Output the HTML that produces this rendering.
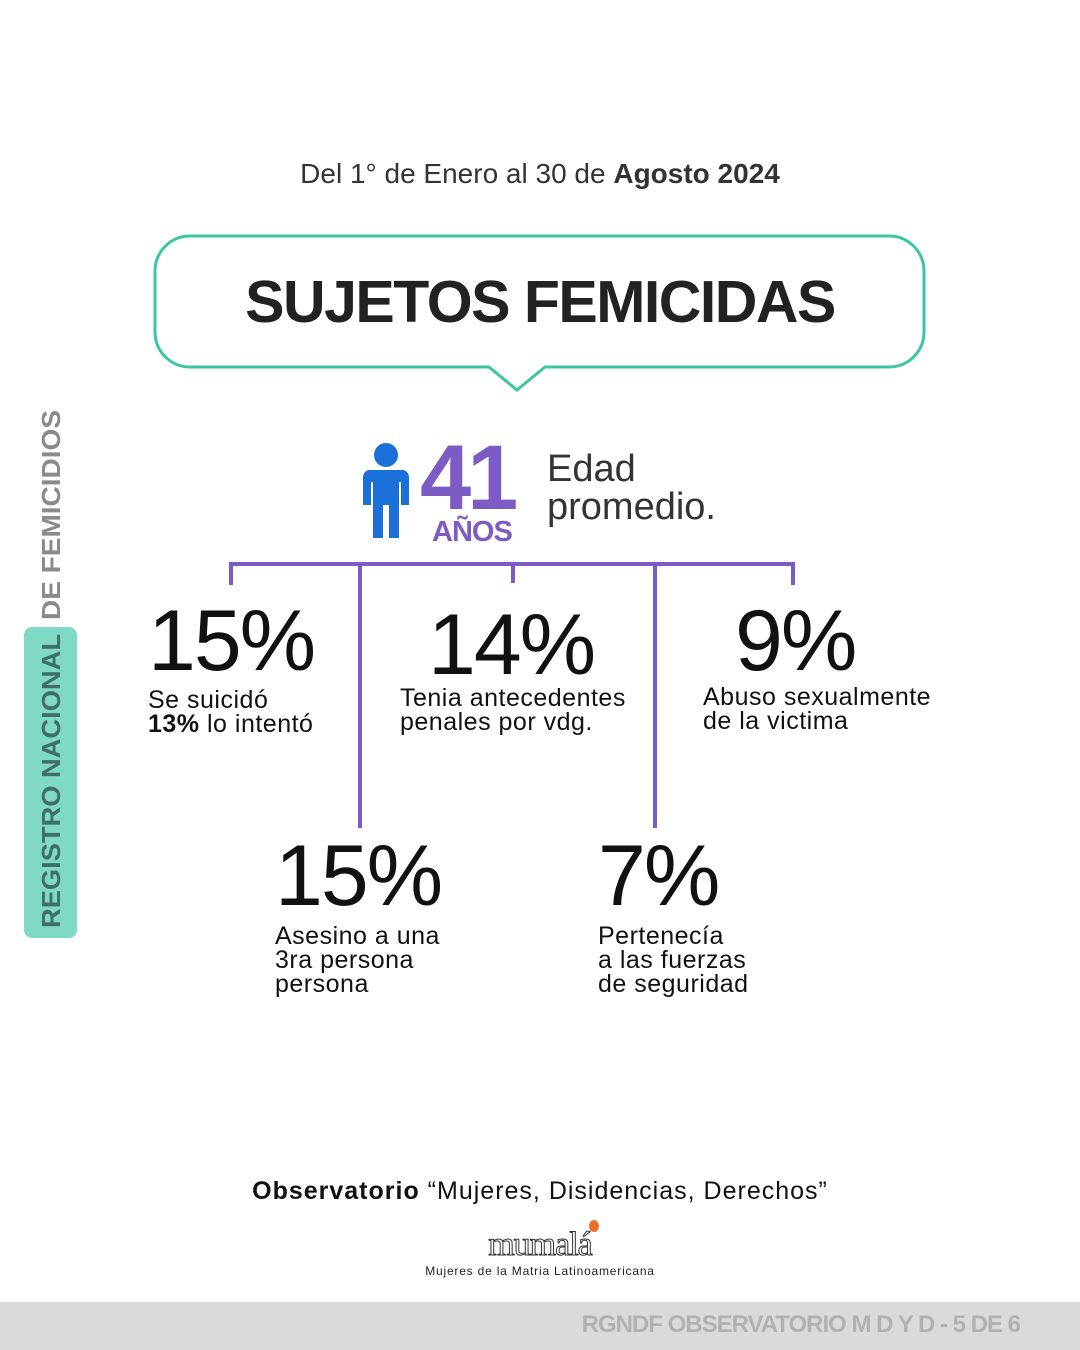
<!DOCTYPE html>
<html><head><meta charset="utf-8"><style>
body{margin:0;width:1080px;height:1350px;background:#fff;position:relative;overflow:hidden;font-family:"Liberation Sans",sans-serif;color:#111}
.a{position:absolute;white-space:nowrap}
.big{font-size:86px;line-height:1;color:#111;letter-spacing:-2px}
.lab{font-size:25px;line-height:24px;color:#111;letter-spacing:0.5px}
</style></head><body>
<div class="a" style="left:0;width:1080px;top:158px;text-align:center;font-size:28px;color:#333">Del 1° de Enero al 30 de <b>Agosto 2024</b></div>
<svg class="a" style="left:0;top:0" width="1080" height="1350">
<path d="M190,236 H889 A35,35 0 0 1 924,271 V332 A35,35 0 0 1 889,367 H545 L517,390 L489,367 H190 A35,35 0 0 1 155,332 V271 A35,35 0 0 1 190,236 Z" fill="#fff" stroke="#3cc6a0" stroke-width="3"/>
<g stroke="#7c5cc4" stroke-width="4" fill="none">
<path d="M231,585 V564 H793 V585"/>
<path d="M360,564 V828"/><path d="M513,564 V583"/><path d="M655,564 V828"/>
</g>
<rect x="24" y="627" width="53" height="311" rx="8" fill="#7fd9c4"/>
<g fill="#1a6fd8">
<circle cx="386" cy="455" r="12"/>
<path d="M368,470 H404 A8,8 0 0 1 409,478 V505 H401 V482 H399 V538 H389 V505 H383 V538 H373 V482 H371 V505 H363 V478 A8,8 0 0 1 368,470 Z"/>
</g>
<text x="0" y="0" transform="translate(60,928) rotate(-90)" font-family="Liberation Sans" font-weight="bold" font-size="26" textLength="294" lengthAdjust="spacingAndGlyphs" fill="#3f6f66">REGISTRO NACIONAL</text>
<text x="0" y="0" transform="translate(60,620) rotate(-90)" font-family="Liberation Sans" font-weight="bold" font-size="26" textLength="210" lengthAdjust="spacingAndGlyphs" fill="#8a8a8a">DE FEMICIDIOS</text>
</svg>
<div class="a" style="left:0;width:1080px;top:268px;text-align:center;font-size:59px;font-weight:bold;color:#222;letter-spacing:-1.5px">SUJETOS FEMICIDAS</div>
<div class="a" style="left:420px;top:432px;font-size:92px;font-weight:bold;color:#7c5cc4;letter-spacing:-4px;line-height:1">41</div>
<div class="a" style="left:432px;top:516px;font-size:29px;font-weight:bold;color:#7c5cc4;letter-spacing:-1px">AÑOS</div>
<div class="a" style="left:547px;top:450px;font-size:38px;line-height:38px;color:#333">Edad<br>promedio.</div>
<div class="a big" style="left:148px;top:598px">15%</div>
<div class="a lab" style="left:148px;top:688px">Se suicidó<br><b>13%</b> lo intentó</div>
<div class="a big" style="left:428px;top:602px">14%</div>
<div class="a lab" style="left:400px;top:686px">Tenia antecedentes<br>penales por vdg.</div>
<div class="a big" style="left:735px;top:598px">9%</div>
<div class="a lab" style="left:703px;top:685px">Abuso sexualmente<br>de la victima</div>
<div class="a big" style="left:275px;top:833px">15%</div>
<div class="a lab" style="left:275px;top:924px">Asesino a una<br>3ra persona<br>persona</div>
<div class="a big" style="left:598px;top:833px">7%</div>
<div class="a lab" style="left:598px;top:924px">Pertenecía<br>a las fuerzas<br>de seguridad</div>
<div class="a" style="left:0;width:1080px;top:1177px;text-align:center;font-size:25px;letter-spacing:1px;color:#111"><b>Observatorio</b> “Mujeres, Disidencias, Derechos”</div>
<div class="a" style="left:0;width:1080px;top:1226px;text-align:center;font-family:'Liberation Serif',serif;font-size:34px;color:#fff;-webkit-text-stroke:1px #333;letter-spacing:-1px">mumalá</div>
<div class="a" style="left:589px;top:1220px;width:10px;height:12px;background:#e8702a;border-radius:50%"></div>
<div class="a" style="left:0;width:1080px;top:1264px;text-align:center;font-size:12px;letter-spacing:0.8px;color:#222">Mujeres de la Matria Latinoamericana</div>
<div class="a" style="left:0;top:1302px;width:1080px;height:48px;background:#d9dada"></div>
<div class="a" style="right:60px;top:1311px;font-size:24px;font-weight:bold;color:#b1b1b1;letter-spacing:-1px">RGNDF OBSERVATORIO M D Y D - 5 DE 6</div>
</body></html>
